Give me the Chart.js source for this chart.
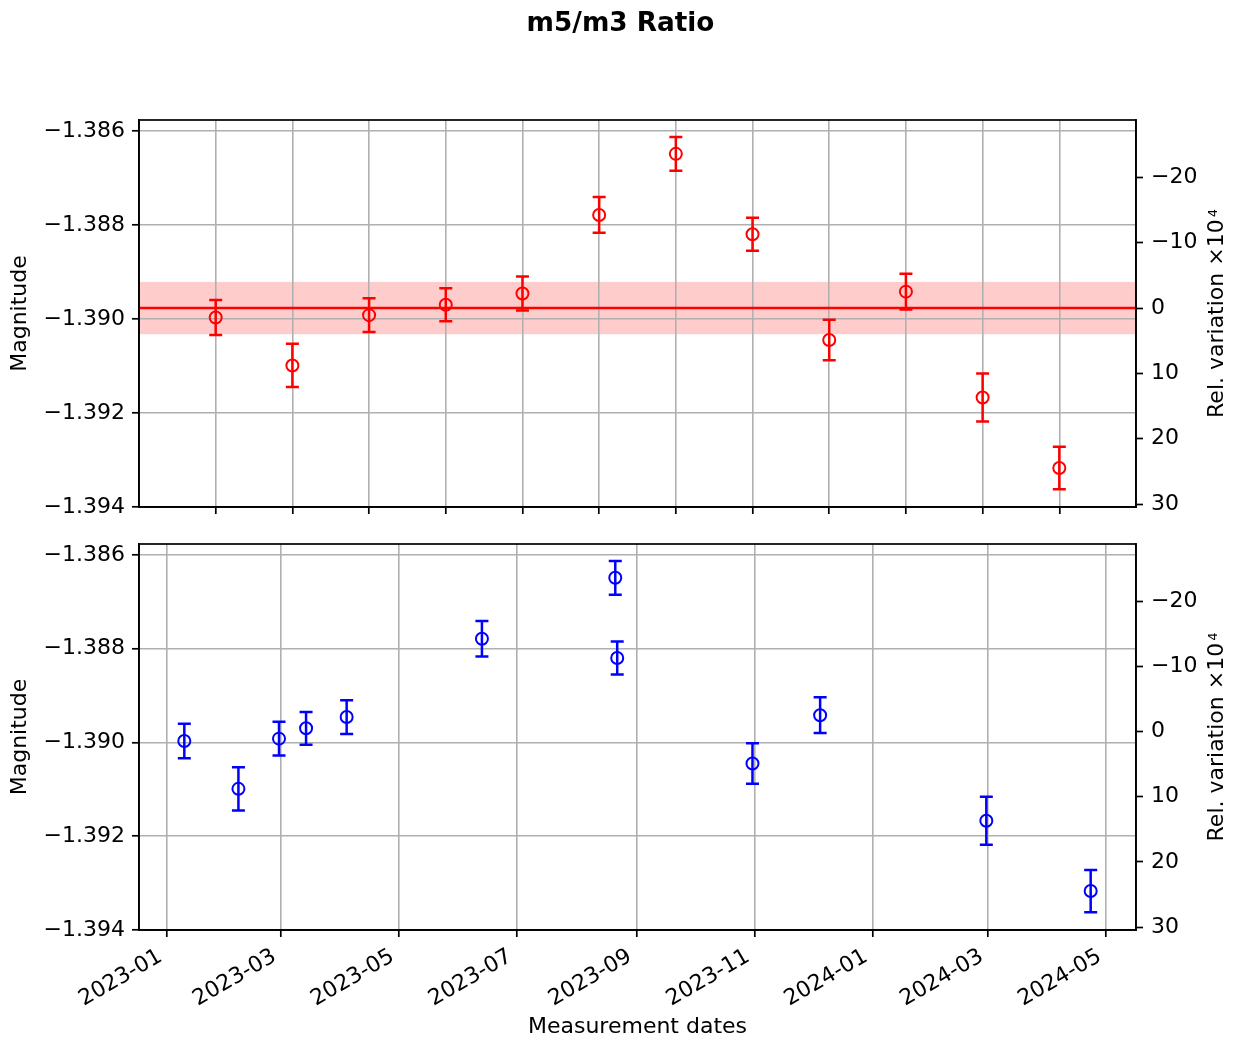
<!DOCTYPE html>
<html>
<head>
<meta charset="utf-8">
<title>m5/m3 Ratio</title>
<script src="https://cdn.jsdelivr.net/npm/chart.js@4.4.1/dist/chart.umd.min.js"></script>
<style>
  html, body { margin: 0; padding: 0; background: #ffffff; }
  #wrap { position: relative; width: 1234px; height: 1040px; overflow: hidden; }
  canvas { position: absolute; left: 0; }
  #topChart { top: 0; }
  #bottomChart { top: 500px; }
</style>
</head>
<body>
<div id="wrap">
  <canvas id="topChart" width="1234" height="530"></canvas>
  <canvas id="bottomChart" width="1234" height="540"></canvas>
</div>
<script>
// Measurement dates and m5/m3 magnitude ratios with their 1-sigma errors
const measurementDates = ['2023-01-10', '2023-02-07', '2023-02-28', '2023-03-14', '2023-04-04', '2023-06-13',
                          '2023-08-21', '2023-08-22', '2023-10-31', '2023-12-05', '2024-02-29', '2024-04-23'];
const magnitudes = [-1.38997, -1.39099, -1.38992, -1.38970, -1.38946, -1.38779,
                    -1.38649, -1.38820, -1.39045, -1.38942, -1.39167, -1.39317];
const magErrors = [0.00037, 0.00046, 0.00036, 0.00035, 0.00036, 0.00038,
                   0.00036, 0.00035, 0.00043, 0.00038, 0.00051, 0.00045];

// Axis settings
const magRange = [-1.394, -1.38577];
const magTicks = [-1.394, -1.392, -1.390, -1.388, -1.386];
const relTicks = [-20, -10, 0, 10, 20, 30];
const dateTickLabels = ['2023-01', '2023-03', '2023-05', '2023-07', '2023-09', '2023-11', '2024-01', '2024-03', '2024-05'];
const relBand = 4;   // tolerance band, in units of 1e-4

const FONT = "'DejaVu Sans', 'Liberation Sans', sans-serif";
const TICK_SIZE = 22;
const SUP_SIZE = 13;

const toMs = s => {
  const [y, m, d] = s.split('-').map(Number);
  return Date.UTC(y, m - 1, d || 1);
};
const meanMag = magnitudes.reduce((a, b) => a + b, 0) / magnitudes.length;
const relOf = m => (m - meanMag) / meanMag * 1e4;
const fmtSigned = (v, digits) => (v < 0 ? '\u2212' : '') + Math.abs(v).toFixed(digits);

Chart.defaults.font.family = FONT;
Chart.defaults.font.size = TICK_SIZE;
Chart.defaults.color = '#000000';

// vertical error bars with caps, drawn under the markers
const errorBars = {
  id: 'errorBars',
  beforeDatasetsDraw(chart) {
    const { ctx } = chart;
    const ys = chart.scales.y;
    chart.data.datasets.forEach((ds, di) => {
      const meta = chart.getDatasetMeta(di);
      ctx.save();
      ctx.strokeStyle = ds.borderColor;
      ctx.lineWidth = 2.5;
      meta.data.forEach((pt, i) => {
        const v = magnitudes[i], e = magErrors[i];
        const y1 = ys.getPixelForValue(v + e);
        const y2 = ys.getPixelForValue(v - e);
        ctx.beginPath();
        ctx.moveTo(pt.x, y1); ctx.lineTo(pt.x, y2);
        ctx.moveTo(pt.x - 6.5, y1); ctx.lineTo(pt.x + 6.5, y1);
        ctx.moveTo(pt.x - 6.5, y2); ctx.lineTo(pt.x + 6.5, y2);
        ctx.stroke();
      });
      ctx.restore();
    });
  }
};

// mean level and its tolerance band
const meanLevel = {
  id: 'meanLevel',
  beforeDraw(chart, args, opts) {
    if (!opts.show) return;
    const { ctx, chartArea: a } = chart;
    const rel = chart.scales.rel;
    const yTop = rel.getPixelForValue(-relBand);
    const yBot = rel.getPixelForValue(relBand);
    ctx.save();
    ctx.fillStyle = 'rgba(255, 0, 0, 0.2)';
    ctx.fillRect(a.left, yTop, a.right - a.left, yBot - yTop);
    ctx.restore();
  },
  beforeDatasetsDraw(chart, args, opts) {
    if (!opts.show) return;
    const { ctx, chartArea: a } = chart;
    const y = chart.scales.y.getPixelForValue(meanMag);
    ctx.save();
    ctx.strokeStyle = '#ff0000';
    ctx.lineWidth = 2.6;
    ctx.beginPath();
    ctx.moveTo(a.left, y); ctx.lineTo(a.right, y);
    ctx.stroke();
    ctx.restore();
  }
};

// full axes frame and the right-hand axis label
const frameAndRightLabel = {
  id: 'frameAndRightLabel',
  afterDraw(chart) {
    const { ctx, chartArea: a } = chart;
    ctx.save();
    ctx.strokeStyle = '#000000';
    ctx.lineWidth = 1.7;
    ctx.strokeRect(a.left, a.top, a.right - a.left, a.bottom - a.top);

    const main = 'Rel. variation \u00d710';
    const sup = '4';
    ctx.fillStyle = '#000000';
    ctx.font = TICK_SIZE + 'px ' + FONT;
    const w1 = ctx.measureText(main).width;
    ctx.font = SUP_SIZE + 'px ' + FONT;
    const w2 = ctx.measureText(sup).width;
    const gap = 2;
    const total = w1 + gap + w2;
    ctx.translate(1222.5, (a.top + a.bottom) / 2);
    ctx.rotate(-Math.PI / 2);
    ctx.textBaseline = 'alphabetic';
    ctx.textAlign = 'left';
    ctx.font = TICK_SIZE + 'px ' + FONT;
    ctx.fillText(main, -total / 2, 0);
    ctx.font = SUP_SIZE + 'px ' + FONT;
    ctx.fillText(sup, -total / 2 + w1 + gap, -6);
    ctx.restore();
  }
};

function yScales(leftWidth, titlePad) {
  return {
    y: {
      type: 'linear',
      position: 'left',
      min: magRange[0],
      max: magRange[1],
      afterBuildTicks: s => { s.ticks = magTicks.map(v => ({ value: v })); },
      afterFit: s => { s.width = leftWidth; },
      ticks: { padding: 7, callback: v => fmtSigned(v, 3), font: { size: TICK_SIZE } },
      grid: { color: '#b0b0b0', lineWidth: 1.6, tickColor: '#000000', tickWidth: 1.7, tickLength: 7 },
      border: { color: '#000000', width: 1.7 },
      title: { display: true, text: 'Magnitude', padding: { top: titlePad, bottom: 0 }, font: { size: TICK_SIZE } }
    },
    rel: {
      type: 'linear',
      position: 'right',
      reverse: true,
      min: relOf(magRange[1]),
      max: relOf(magRange[0]),
      afterBuildTicks: s => { s.ticks = relTicks.map(v => ({ value: v })); },
      afterFit: s => { s.width = 98; },
      ticks: { padding: 8, callback: v => fmtSigned(v, 0), font: { size: TICK_SIZE } },
      grid: { drawOnChartArea: false, color: '#000000', tickColor: '#000000', tickWidth: 1.7, tickLength: 7 },
      border: { color: '#000000', width: 1.7 }
    }
  };
}

function pointDataset(points, color) {
  return {
    data: points,
    borderColor: color,
    backgroundColor: 'rgba(0,0,0,0)',
    pointRadius: 6,
    pointHoverRadius: 6,
    pointBorderWidth: 2,
    pointHoverBorderWidth: 2,
    pointBackgroundColor: 'rgba(0,0,0,0)',
    pointBorderColor: color,
    showLine: false
  };
}

const commonOptions = {
  responsive: false,
  devicePixelRatio: 1,
  animation: false,
  events: []
};

// upper panel: measurements in sequence order
new Chart(document.getElementById('topChart'), {
  type: 'scatter',
  data: {
    datasets: [pointDataset(magnitudes.map((m, i) => ({ x: i, y: m })), '#ff0000')]
  },
  options: {
    ...commonOptions,
    layout: { padding: { top: 0, left: 7, right: 0, bottom: 0 } },
    plugins: {
      legend: { display: false },
      tooltip: { enabled: false },
      title: {
        display: true,
        text: 'm5/m3 Ratio',
        color: '#000000',
        font: { size: 26.3, weight: 'bold', family: FONT, lineHeight: 1.2 },
        padding: { top: 8.4, bottom: 80.04 }
      },
      meanLevel: { show: true }
    },
    scales: {
      x: {
        type: 'linear',
        position: 'bottom',
        min: -1,
        max: measurementDates.length,
        afterBuildTicks: s => { s.ticks = measurementDates.map((d, i) => ({ value: i })); },
        afterFit: s => { s.height = 23; },
        ticks: { display: false },
        grid: { color: '#b0b0b0', lineWidth: 1.6, tickColor: '#000000', tickWidth: 1.7, tickLength: 7 },
        border: { color: '#000000', width: 1.7 }
      },
      ...yScales(132, 0.5)
    }
  },
  plugins: [meanLevel, errorBars, frameAndRightLabel]
});

// lower panel: measurements against calendar date
const dateMs = measurementDates.map(toMs);
const dMin = Math.min(...dateMs), dMax = Math.max(...dateMs);
const dPad = (dMax - dMin) * 0.05;

new Chart(document.getElementById('bottomChart'), {
  type: 'scatter',
  data: {
    datasets: [pointDataset(magnitudes.map((m, i) => ({ x: dateMs[i], y: m })), '#0000ff')]
  },
  options: {
    ...commonOptions,
    layout: { padding: { top: 44, left: 0, right: 0, bottom: 0 } },
    plugins: {
      legend: { display: false },
      tooltip: { enabled: false },
      meanLevel: { show: false }
    },
    scales: {
      x: {
        type: 'linear',
        position: 'bottom',
        min: dMin - dPad,
        max: dMax + dPad,
        afterBuildTicks: s => { s.ticks = dateTickLabels.map(t => ({ value: toMs(t) })); },
        afterFit: s => { s.height = 110; },
        ticks: {
          autoSkip: false,
          minRotation: 30,
          maxRotation: 30,
          padding: 6.7,
          labelOffset: -6.4,
          font: { size: TICK_SIZE },
          callback: (v, i) => dateTickLabels[i]
        },
        grid: { color: '#b0b0b0', lineWidth: 1.6, tickColor: '#000000', tickWidth: 1.7, tickLength: 7 },
        border: { color: '#000000', width: 1.7 },
        title: { display: true, text: 'Measurement dates', padding: { top: 0, bottom: 0 }, font: { size: TICK_SIZE } }
      },
      ...yScales(139, 7.5)
    }
  },
  plugins: [meanLevel, errorBars, frameAndRightLabel]
});
</script>
</body>
</html>
